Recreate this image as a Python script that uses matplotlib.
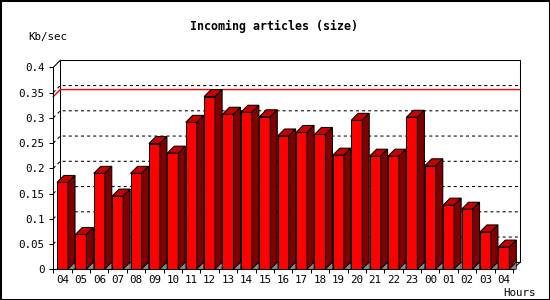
import matplotlib
matplotlib.use("Agg")
import matplotlib.pyplot as plt
from matplotlib.patches import Polygon, Rectangle
import numpy as np

plt.rcParams['lines.scale_dashes'] = False

hours = ['04', '05', '06', '07', '08', '09', '10', '11', '12', '13', '14', '15',
         '16', '17', '18', '19', '20', '21', '22', '23', '00', '01', '02', '03', '04']
values = [0.172, 0.069, 0.190, 0.145, 0.190, 0.249, 0.230, 0.291, 0.342, 0.307,
          0.311, 0.302, 0.264, 0.271, 0.267, 0.226, 0.295, 0.224, 0.224, 0.301,
          0.205, 0.127, 0.119, 0.074, 0.044]
y_ticks = [0, 0.05, 0.1, 0.15, 0.2, 0.25, 0.3, 0.35, 0.4]

W, H = 550, 300
fig = plt.figure(figsize=(W / 100, H / 100), dpi=100)
fig.patch.set_facecolor('white')

# front plane of the plot (pixels)
left, right, top, bottom = 53.3, 513.0, 67.3, 269.3
ax = fig.add_axes([left / W, (H - bottom) / H, (right - left) / W, (bottom - top) / H])
ax.set_facecolor('none')

n = len(values)
ax.set_xlim(-0.5, n - 0.5)
ax.set_ylim(0, 0.4)

# 3d depth in data units (~7 px)
px_x = (right - left) / n
px_y = (bottom - top) / 0.4
dx = 7 / px_x
dy = 7 / px_y
w = 0.6
lw = 0.75
x0, x1 = -0.5, n - 0.5

# back wall frame
ax.add_patch(Rectangle((x0 + dx, dy), n, 0.4, fill=False, ec='black', lw=lw,
                       clip_on=False, zorder=1))
ax.plot([x0, x0 + dx], [0.4, 0.4 + dy], color='black', lw=lw, clip_on=False, zorder=1)
ax.plot([x1, x1 + dx], [0, dy], color='black', lw=lw, clip_on=False, zorder=1)

# dotted grid on the back wall
for v in y_ticks[1:-1]:
    ax.plot([x0, x0 + dx, x1 + dx], [v, v + dy, v + dy], color='black', lw=lw,
            ls=(0, (2.2, 2.2)), clip_on=False, zorder=1)

# max line
m = max(values)
ax.plot([x0, x0 + dx, x1 + dx], [m, m + dy, m + dy], color='#ff0000', lw=1.0,
        clip_on=False, zorder=1.5)

# bars
xs = np.arange(n)
ax.bar(xs, values, width=w, color='#ff0000', edgecolor='black', linewidth=lw, zorder=3)
for i, v in enumerate(values):
    l, r = i - w / 2, i + w / 2
    ax.add_patch(Polygon([(l, v), (l + dx, v + dy), (r + dx, v + dy), (r, v)],
                         closed=True, fc='#c80000', ec='black', lw=lw, zorder=3,
                         clip_on=False))
    ax.add_patch(Polygon([(r, 0), (r, v), (r + dx, v + dy), (r + dx, dy)],
                         closed=True, fc='#800000', ec='black', lw=lw, zorder=3,
                         clip_on=False))
    ax.add_patch(Polygon([(r, 0), (r + dx, dy), (r + dx, 0)],
                         closed=True, fc='#8c8c8c', ec='black', lw=lw * 0.7, zorder=3,
                         clip_on=False))

# axes
for s in ['top', 'right']:
    ax.spines[s].set_visible(False)
for s in ['left', 'bottom']:
    ax.spines[s].set_linewidth(lw)
    ax.spines[s].set_zorder(4)

font = dict(family='DejaVu Sans Mono', size=7.8)
ax.set_yticks(y_ticks)
ax.set_yticklabels(['%g' % t for t in y_ticks], **font)
ax.tick_params(axis='y', direction='out', length=3, width=lw, pad=3.2)

ax.set_xticks(np.arange(n + 1) - 0.5)
ax.set_xticklabels([])
ax.set_xticks(xs, minor=True)
ax.set_xticklabels(hours, minor=True, **font)
ax.tick_params(axis='x', which='major', direction='out', length=3, width=lw)
ax.tick_params(axis='x', which='minor', length=0, pad=4)

fig.text(274 / W, 1 - 26.5 / H, 'Incoming articles (size)', ha='center', va='center',
         family='DejaVu Sans Mono', weight='bold', size=8.4)
fig.text(47.5 / W, 1 - 37 / H, 'Kb/sec', ha='center', va='center', **font)
fig.text(519 / W, 1 - 292.5 / H, 'Hours', ha='center', va='center', **font)

fig.patches.append(Rectangle((0, 0), 1, 1, transform=fig.transFigure, fill=False,
                             ec='black', lw=2.2))

fig.savefig('out.png', dpi=100)
